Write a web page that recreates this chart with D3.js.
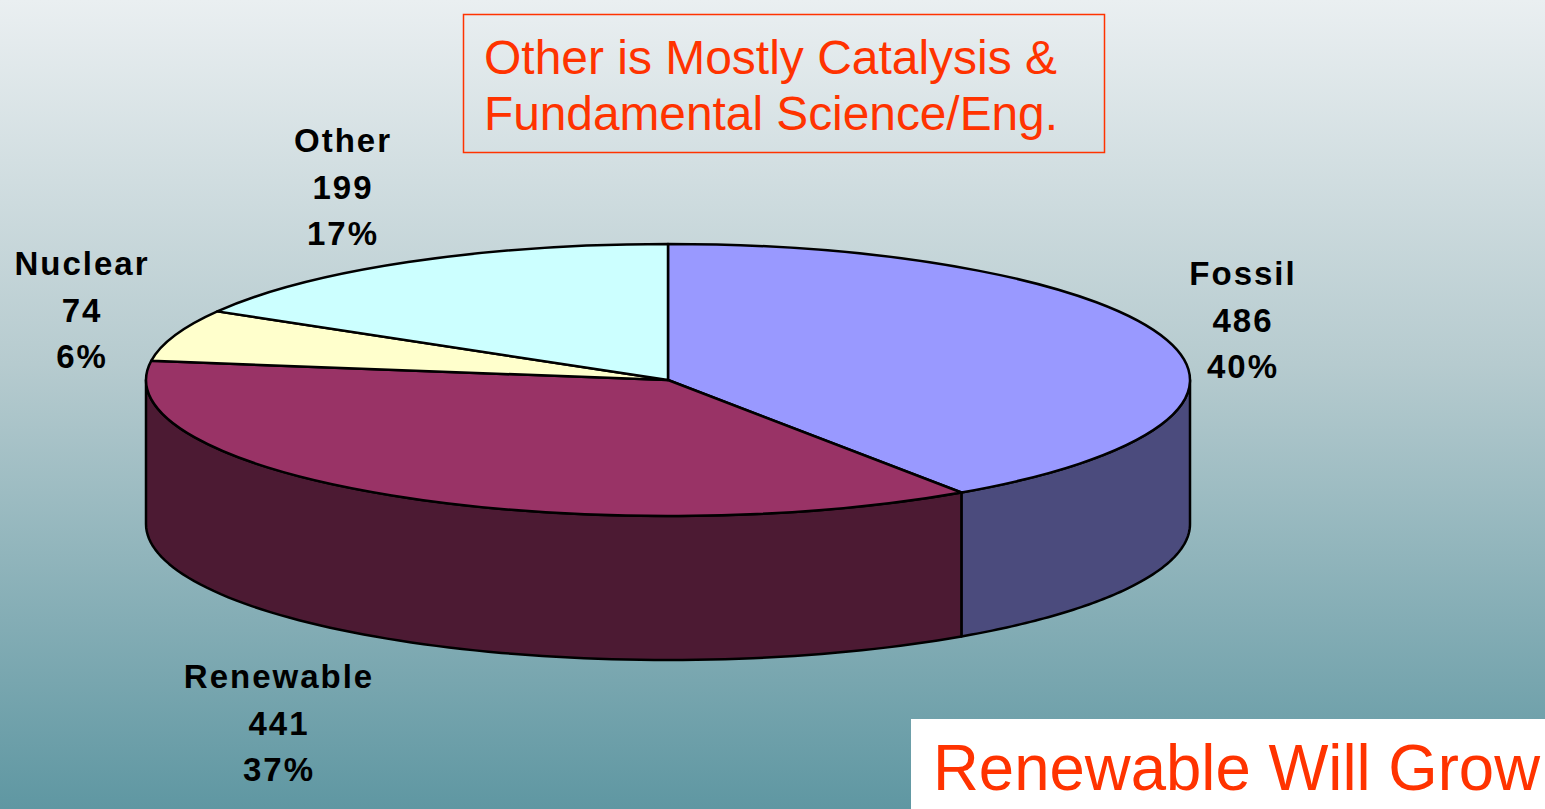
<!DOCTYPE html>
<html>
<head>
<meta charset="utf-8">
<script src="https://cdn.jsdelivr.net/npm/d3@7"></script>
<style>
  html, body { margin: 0; padding: 0; overflow: hidden; }
  svg { display: block; }
</style>
</head>
<body>
<svg id="chart" width="1545" height="809"></svg>
<script>
// slice data, in drawing order (clockwise from 12 o'clock)
var categories = ["Fossil", "Renewable", "Nuclear", "Other"];
var values = [486, 441, 74, 199];
var percents = ["40%", "37%", "6%", "17%"];
var topColors = ["#9999ff", "#993366", "#ffffcc", "#ccffff"];
var sideColors = ["#4b4b7d", "#4c1a33", "#7f7f66", "#668080"];
// label anchor positions (center x, first baseline)
var labelPos = [[1243, 285], [279, 688], [82, 275], [343, 152]];

var W = 1545, H = 809;
var cx = 668, cy = 380, rx = 522, ry = 136, depth = 144;

var svg = d3.select("#chart");

var defs = svg.append("defs");
var grad = defs.append("linearGradient")
    .attr("id", "bg").attr("x1", 0).attr("y1", 0).attr("x2", 0).attr("y2", 1);
grad.append("stop").attr("offset", "0%").attr("stop-color", "#eaeff1");
grad.append("stop").attr("offset", "45%").attr("stop-color", "#b6cbcf");
grad.append("stop").attr("offset", "100%").attr("stop-color", "#5f97a2");

svg.append("rect").attr("width", W).attr("height", H).attr("fill", "url(#bg)");

var pie = d3.pie().sort(null).value(function(d) { return d; });
var arcs = pie(values);

function pt(a, dy) {
    return [cx + rx * Math.sin(a), cy - ry * Math.cos(a) + (dy || 0)];
}

var line = d3.line();

// outer walls, only the front half is visible
var sides = svg.append("g");
arcs.forEach(function(d, i) {
    var a0 = Math.max(d.startAngle, Math.PI / 2);
    var a1 = Math.min(d.endAngle, 3 * Math.PI / 2);
    if (a1 <= a0) return;
    var n = 80;
    var topPts = d3.range(n + 1).map(function(k) { return pt(a0 + (a1 - a0) * k / n, 0); });
    var botPts = topPts.slice().reverse().map(function(p) { return [p[0], p[1] + depth]; });
    sides.append("path")
        .attr("d", line(topPts.concat(botPts)) + "Z")
        .attr("fill", sideColors[i])
        .attr("stroke", "#000")
        .attr("stroke-width", 2.5)
        .attr("stroke-linejoin", "round");
});

// top faces
var arc = d3.arc().innerRadius(0).outerRadius(rx);
svg.append("g")
    .attr("transform", "translate(" + cx + "," + cy + ") scale(1," + (ry / rx) + ")")
    .selectAll("path")
    .data(arcs)
    .join("path")
    .attr("d", arc)
    .attr("fill", function(d, i) { return topColors[i]; })
    .attr("stroke", "#000")
    .attr("stroke-width", 2.5)
    .attr("stroke-linejoin", "round")
    .attr("vector-effect", "non-scaling-stroke");

// labels
var labels = svg.append("g")
    .attr("font-family", "'Liberation Sans', Arial, sans-serif")
    .attr("font-weight", "bold")
    .attr("font-size", 33)
    .attr("letter-spacing", "2px")
    .attr("text-anchor", "middle")
    .attr("fill", "#000");
arcs.forEach(function(d, i) {
    var p = labelPos[i];
    var t = labels.append("text").attr("x", p[0]).attr("y", p[1]);
    [categories[i], values[i], percents[i]].forEach(function(s, k) {
        t.append("tspan").attr("x", p[0]).attr("y", p[1] + k * 46.5).text(s);
    });
});

// note box
svg.append("rect")
    .attr("x", 463.5).attr("y", 14.5).attr("width", 641).attr("height", 138)
    .attr("fill", "none").attr("stroke", "#ff3300").attr("stroke-width", 1.5);
var note = svg.append("g")
    .attr("font-family", "'Liberation Sans', Arial, sans-serif")
    .attr("font-size", 48)
    .attr("fill", "#ff3300");
note.append("text").attr("x", 484).attr("y", 74)
    .attr("textLength", 573).attr("lengthAdjust", "spacingAndGlyphs")
    .text("Other is Mostly Catalysis &");
note.append("text").attr("x", 484).attr("y", 130)
    .attr("textLength", 574).attr("lengthAdjust", "spacingAndGlyphs")
    .text("Fundamental Science/Eng.");

// bottom call-out
svg.append("rect")
    .attr("x", 911).attr("y", 719).attr("width", W - 911).attr("height", H - 719)
    .attr("fill", "#fff");
svg.append("text")
    .attr("x", 933).attr("y", 790)
    .attr("font-family", "'Liberation Sans', Arial, sans-serif")
    .attr("font-size", 64)
    .attr("fill", "#ff3300")
    .attr("textLength", 607).attr("lengthAdjust", "spacingAndGlyphs")
    .text("Renewable Will Grow");
</script>
</body>
</html>
